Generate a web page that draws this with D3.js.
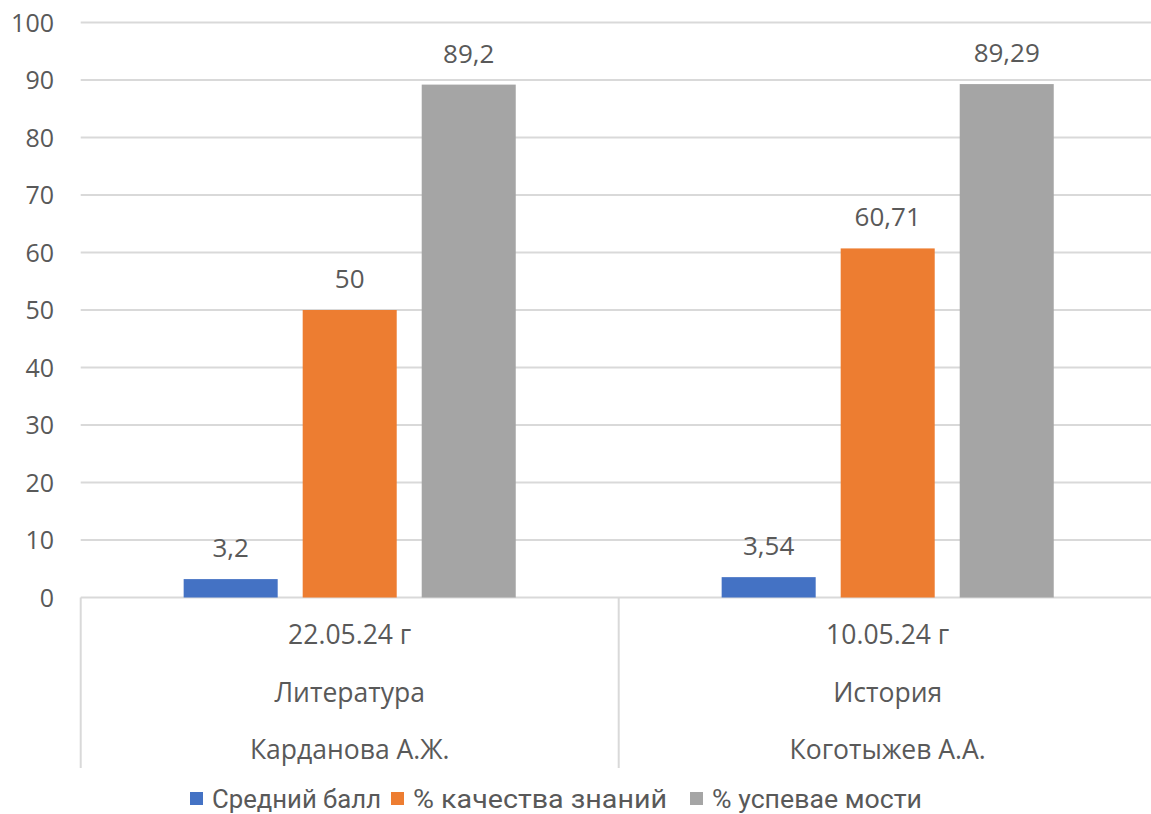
<!DOCTYPE html>
<html>
<head>
<meta charset="utf-8">
<script src="https://cdn.jsdelivr.net/npm/d3@7"></script>
<style>
  html, body { margin: 0; padding: 0; background: #fff; }
  svg { display: block; }
</style>
</head>
<body>
<svg id="chart" width="1151" height="814"></svg>
<script>
const categories = ["cat1", "cat2"];
const catDates = ["22.05.24 г", "10.05.24 г"];
const catSubjects = ["Литература", "История"];
const catTeachers = ["Карданова А.Ж.", "Коготыжев А.А."];
const seriesNames = ["Средний балл", "% качества знаний", "% успевае мости"];
const seriesColors = ["#4472C4", "#ED7D31", "#A5A5A5"];
const avgScore = [3.2, 3.54];
const qualityPct = [50, 60.71];
const successPct = [89.2, 89.29];
const seriesLabels = [["3,2", "3,54"], ["50", "60,71"], ["89,2", "89,29"]];
const yTicks = [0, 10, 20, 30, 40, 50, 60, 70, 80, 90, 100];

const seriesValues = [avgScore, qualityPct, successPct];

(function draw() {
const svg = d3.select("#chart");
const plotLeft = 80.7, plotTop = 22.5, plotBottom = 597.5, catW = 538;
const textColor = "#595959";
const gridColor = "#d9d9d9";
const font = "'Open Sans', 'Segoe UI', sans-serif";

const y = d3.scaleLinear().domain([0, 100]).range([plotBottom, plotTop]);
const x0 = d3.scaleBand().domain(categories).range([plotLeft, plotLeft + catW * categories.length]).padding(0);
const x1 = d3.scaleBand().domain(seriesNames).range([0, x0.bandwidth()]).paddingInner(0.21).paddingOuter(0.865);

// gridlines
svg.append("g").selectAll("line").data(yTicks).join("line")
  .attr("x1", plotLeft).attr("x2", 1151)
  .attr("y1", d => y(d)).attr("y2", d => y(d))
  .attr("stroke", gridColor).attr("stroke-width", 2);

// y tick labels
svg.append("g").selectAll("text").data(yTicks).join("text")
  .attr("x", 54).attr("y", d => y(d) + 9)
  .attr("text-anchor", "end")
  .attr("font-family", font).attr("font-size", 25)
  .attr("fill", textColor)
  .text(d => d);

// category dividers
const divX = categories.map(c => x0(c)).concat([x0(categories[categories.length - 1]) + x0.bandwidth()]);
svg.append("g").selectAll("line").data(divX).join("line")
  .attr("x1", d => d).attr("x2", d => d)
  .attr("y1", plotBottom).attr("y2", 768)
  .attr("stroke", gridColor).attr("stroke-width", 2);

// bars
const barData = [];
seriesNames.forEach((s, si) => {
  categories.forEach((c, ci) => {
    barData.push({ s, si, c, ci, v: seriesValues[si][ci], label: seriesLabels[si][ci] });
  });
});

svg.append("g").selectAll("rect").data(barData).join("rect")
  .attr("x", d => x0(d.c) + x1(d.s))
  .attr("y", d => y(d.v))
  .attr("width", x1.bandwidth())
  .attr("height", d => y(0) - y(d.v))
  .attr("fill", d => seriesColors[d.si]);

svg.append("g").selectAll("text").data(barData).join("text")
  .attr("x", d => x0(d.c) + x1(d.s) + x1.bandwidth() / 2)
  .attr("y", d => y(d.v) - 22)
  .attr("text-anchor", "middle")
  .attr("font-family", font).attr("font-size", 26)
  .attr("fill", textColor)
  .text(d => d.label);

// multi-level category labels
const rows = [catDates, catSubjects, catTeachers];
rows.forEach((row, ri) => {
  svg.append("g").selectAll("text").data(categories).join("text")
    .attr("x", c => x0(c) + x0.bandwidth() / 2)
    .attr("y", 644 + ri * 57.5)
    .attr("text-anchor", "middle")
    .attr("font-family", font).attr("font-size", 26.5)
    .attr("fill", textColor)
    .text((c, i) => row[i]);
});

// legend
const legendX = [190, 391, 690];
const legendTextW = [169, 254, 210];
const lg = svg.append("g").selectAll("g").data(seriesNames).join("g")
  .attr("transform", (d, i) => `translate(${legendX[i]},799)`);
lg.append("rect").attr("x", 0).attr("y", -7).attr("width", 13).attr("height", 13)
  .attr("fill", (d, i) => seriesColors[i]);
lg.append("text").attr("x", 22).attr("y", 9)
  .attr("font-family", "'Liberation Sans Narrow', 'Roboto', sans-serif").attr("font-size", 26)
  .attr("textLength", (d, i) => legendTextW[i])
  .attr("lengthAdjust", "spacingAndGlyphs")
  .attr("fill", textColor)
  .text(d => d);
})();
</script>
</body>
</html>
